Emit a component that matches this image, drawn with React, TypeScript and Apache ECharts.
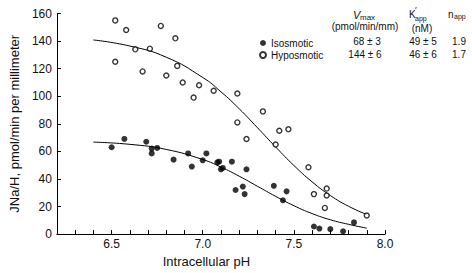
import React, { useEffect, useRef } from "react";
import * as echarts from "echarts";

// Isosmotic (filled circles)
const isoPH = [6.50, 6.57, 6.69, 6.72, 6.72, 6.75, 6.84, 6.92, 6.94, 7.00, 7.02, 7.08, 7.09, 7.10, 7.11, 7.16, 7.24, 7.18, 7.22, 7.23, 7.39, 7.46, 7.44, 7.61, 7.64, 7.70, 7.77, 7.83];
const isoRate = [63, 69, 67, 62, 58.5, 62.5, 54, 58.5, 49, 53.5, 58.5, 52, 52.5, 47, 48, 52.5, 47, 32, 34.5, 29, 35, 31, 24.5, 5.5, 4, 3.6, 2, 8.5];

// Hyposmotic (open circles)
const hypoPH = [6.52, 6.58, 6.77, 6.85, 6.63, 6.71, 6.52, 6.67, 6.80, 6.86, 6.89, 6.98, 7.06, 6.95, 7.19, 7.33, 7.19, 7.24, 7.42, 7.47, 7.40, 7.58, 7.61, 7.68, 7.68, 7.67, 7.90];
const hypoRate = [155, 148, 151, 142, 134, 134.5, 125, 118, 115, 122, 110, 108, 104, 99, 102, 89, 81, 69, 75, 76, 65, 48.5, 29, 33, 28, 19, 13.5];

// Fitted curves
const curvePH = [6.4, 6.6, 6.8, 7.0, 7.1, 7.2, 7.3, 7.4, 7.5, 7.6, 7.7, 7.8, 7.9];
const isoFit = [66.7, 65.1, 61.4, 54.1, 48.6, 42.0, 34.7, 27.4, 20.6, 14.9, 10.4, 7.1, 4.3];
const hypoFit = [140.8, 136.4, 128.3, 113.6, 103.2, 90.9, 77.2, 63.2, 49.8, 37.9, 28.0, 20.2, 14.2];

// Table text
const vmaxVals = ["68 ± 3", "144 ± 6"];
const kVals = ["49 ± 5", "46 ± 6"];
const nVals = ["1.9", "1.7"];

const FONT = "'Liberation Sans', Arial, Helvetica, sans-serif";
const INK = "#111";

function zip(a: number[], b: number[]) {
  return a.map((v, i) => [v, b[i]]);
}

function txt(text: string, x: number, y: number, size: number, align = "center", extra: any = {}) {
  return {
    type: "text",
    x,
    y,
    silent: true,
    style: {
      text,
      fontSize: size,
      fontFamily: FONT,
      fill: INK,
      align,
      verticalAlign: "middle",
      ...extra,
    },
  };
}

export default function App() {
  const ref = useRef<HTMLDivElement>(null);
  useEffect(() => {
    const chart = echarts.init(ref.current!, null, { renderer: "svg" });
    chart.setOption({
      animation: false,
      backgroundColor: "#fff",
      textStyle: { fontFamily: FONT, color: INK },
      grid: { left: 50, top: 13.5, width: 335, height: 222.5, containLabel: false },
      legend: {
        data: ["Isosmotic", "Hyposmotic"],
        orient: "vertical",
        left: 254,
        top: 33,
        itemWidth: 6,
        itemHeight: 6,
        itemGap: 2,
        selectedMode: false,
        textStyle: { fontSize: 10, color: INK, fontFamily: FONT },
      },
      xAxis: {
        type: "value",
        min: 6.2,
        max: 8.0,
        interval: 0.1,
        axisLine: { lineStyle: { color: "#000", width: 1 } },
        axisTick: { inside: true, length: 4, lineStyle: { color: "#000" } },
        axisLabel: {
          interval: 0,
          fontSize: 12,
          color: INK,
          margin: 4,
          formatter: (v: number) => (Math.abs(v * 2 - Math.round(v * 2)) < 1e-6 ? v.toFixed(1) : ""),
        },
        splitLine: { show: false },
        name: "Intracellular pH",
        nameLocation: "middle",
        nameGap: 20,
        nameTextStyle: { fontSize: 13, color: INK, padding: [0, 29, 0, 0] },
      },
      yAxis: {
        type: "value",
        min: 0,
        max: 160,
        interval: 20,
        axisLine: { show: true, lineStyle: { color: "#000", width: 1 } },
        axisTick: { show: true, inside: true, length: 4, lineStyle: { color: "#000" } },
        axisLabel: { fontSize: 12, color: INK, margin: 5 },
        splitLine: { show: false },
        name: "JNa/H, pmol/min per millimeter",
        nameLocation: "middle",
        nameGap: 30,
        nameTextStyle: { fontSize: 13, color: INK },
      },
      series: [
        {
          name: "Isosmotic",
          type: "scatter",
          data: zip(isoPH, isoRate),
          symbol: "circle",
          symbolSize: 6,
          itemStyle: { color: "#000" },
          z: 3,
        },
        {
          name: "Hyposmotic",
          type: "scatter",
          data: zip(hypoPH, hypoRate),
          symbol: "circle",
          symbolSize: 5,
          itemStyle: { color: "#fff", borderColor: "#000", borderWidth: 1.4 },
          z: 3,
        },
        {
          name: "isoFit",
          type: "line",
          data: zip(curvePH, isoFit),
          smooth: true,
          showSymbol: false,
          lineStyle: { color: "#000", width: 1 },
          z: 2,
        },
        {
          name: "hypoFit",
          type: "line",
          data: zip(curvePH, hypoFit),
          smooth: true,
          showSymbol: false,
          lineStyle: { color: "#000", width: 1 },
          z: 2,
        },
      ],
      graphic: [
        txt("V", 353, 14.5, 11, "left", { fontStyle: "italic" }),
        txt("max", 360, 17, 8, "left"),
        txt("(pmol/min/mm)", 365, 26, 10),
        txt(vmaxVals[0], 367, 41, 10),
        txt(vmaxVals[1], 365, 54, 10),
        txt("K", 409, 14, 10, "left"),
        txt("′", 415, 10, 9, "left"),
        txt("app", 415, 18, 7, "left"),
        txt("(nM)", 422, 28, 10),
        txt(kVals[0], 423, 41, 10),
        txt(kVals[1], 423, 54, 10),
        txt("n", 448, 14, 10, "left"),
        txt("app", 454, 16, 7, "left"),
        txt(nVals[0], 459, 41, 10),
        txt(nVals[1], 459, 54, 10),
      ],
    });
    return () => chart.dispose();
  }, []);
  return <div ref={ref} style={{ width: 472, height: 273, position: "fixed", left: 0, top: 0 }} />;
}
